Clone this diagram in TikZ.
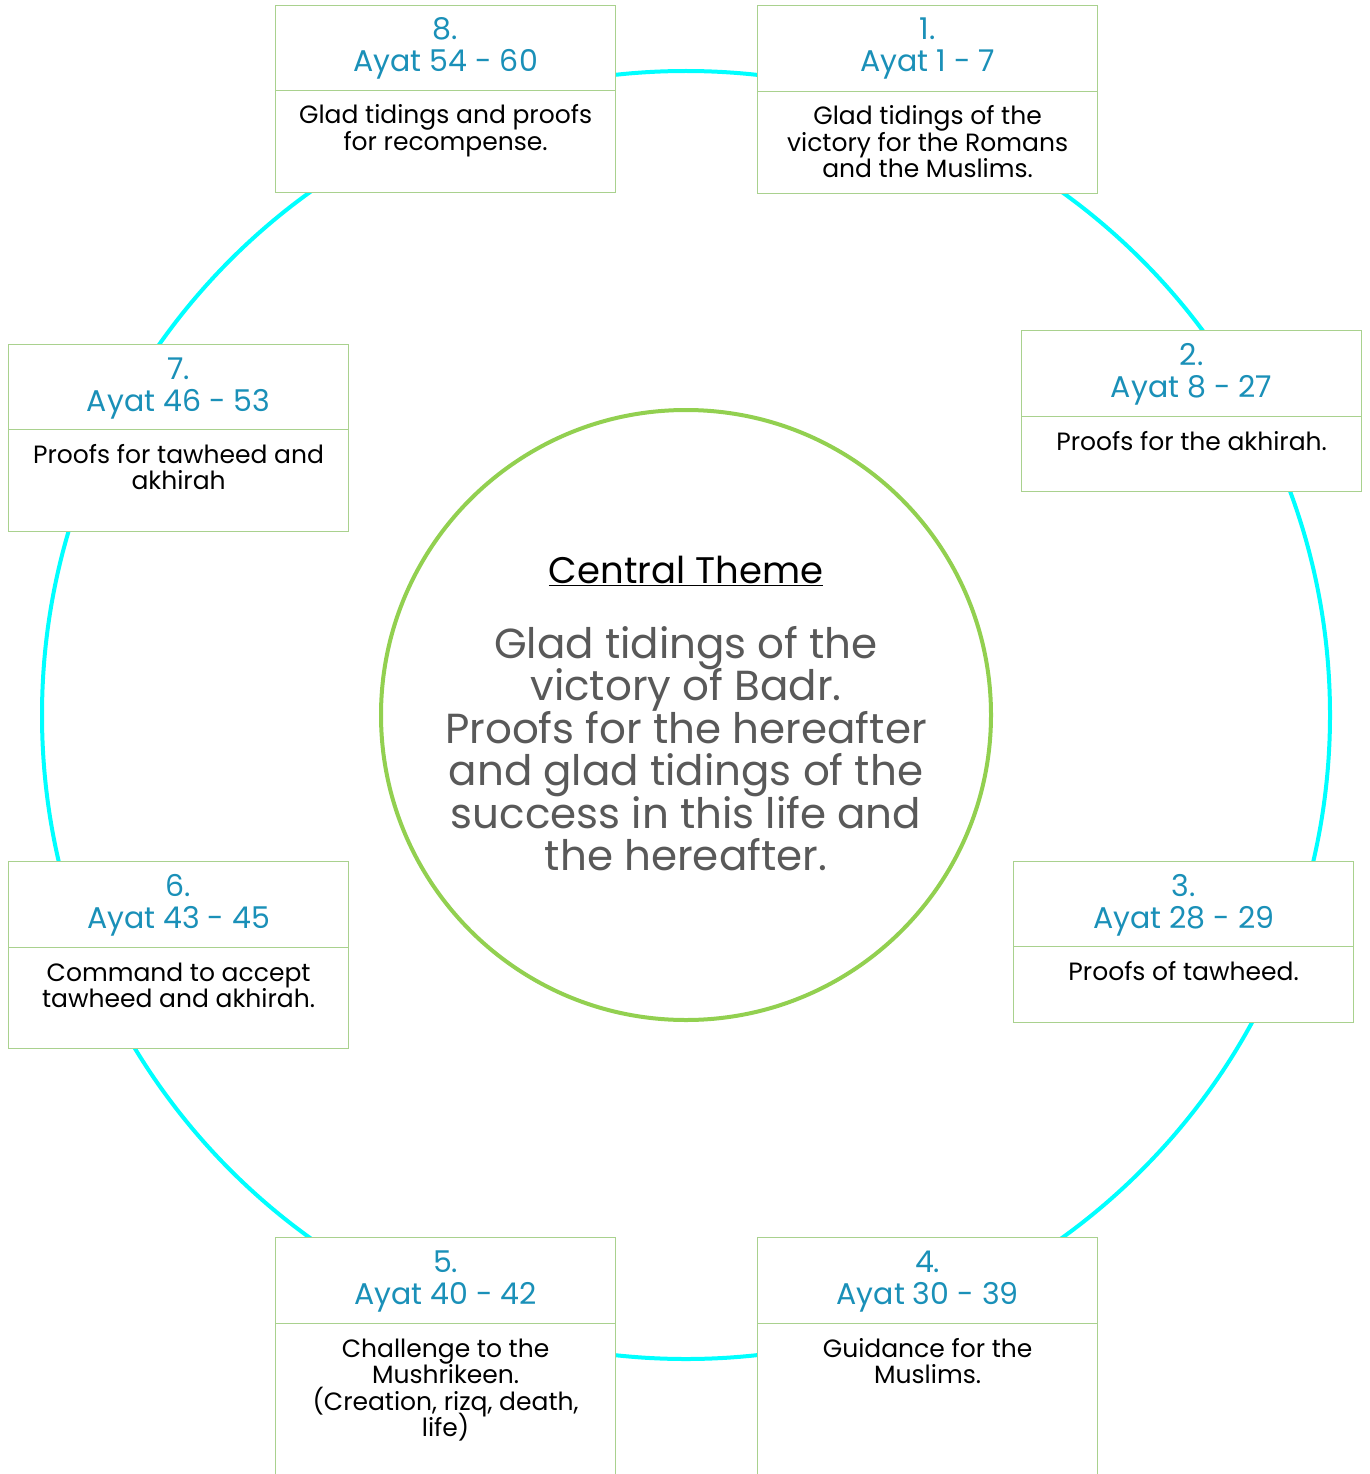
\documentclass[tikz,border=0pt]{standalone}
\usepackage{fontspec}
\setmainfont{Poppins}
\usetikzlibrary{calc}
\definecolor{ring}{HTML}{00FFFF}
\definecolor{cgreen}{HTML}{92D050}
\definecolor{bgreen}{HTML}{A9D18E}
\definecolor{hblue}{HTML}{1A90B8}
\definecolor{cgray}{HTML}{595959}
\newcommand{\mylines}[1]{\vtop{\lineskiplimit=-1000pt\let\\\cr\halign{\hfil##\hfil\cr#1\crcr}}}
\newcommand{\ayatbox}[8]{%
  \node[part, minimum height={#4-#3}] (#1h) at (#2,#3) {};
  \node[part, minimum height={#5-#4}] (#1b) at (#2,#4) {};
  \node[hdr] (#1t) at ($(#1h.north)+(0,35)$) {\mylines{#6\\#7}};
  \node[bodytext] (#1d) at ($(#1b.north)+(0,34)$) {\mylines{#8}};
}
\begin{document}
\begin{tikzpicture}[x=1pt,y=-1pt,
  part/.style={draw=bgreen,line width=1.2pt,fill=white,minimum width=340pt,inner sep=0pt,anchor=north west},
  hdr/.style={text=hblue,font=\fontsize{30}{32}\selectfont,inner sep=0pt,anchor=base},
  bodytext/.style={text=black,font=\fontsize{25}{26.5}\selectfont,inner sep=0pt,anchor=base}]
\useasboundingbox (0,0) rectangle (1369,1474);
\clip (0,0) rectangle (1369,1474);
\fill[white] (0,0) rectangle (1369,1474);
\node[circle, draw=ring, line width=4pt, minimum size=1288pt, inner sep=0pt] (ring) at (686,715) {};
\node[circle, draw=cgreen, line width=4pt, minimum size=610pt, inner sep=0pt] (center) at (686,715) {};
\node[anchor=base, inner sep=0pt, font=\fontsize{37}{37}\selectfont] (title) at (686,583) {\underline{Central Theme}};
\node[anchor=base, inner sep=0pt, text=cgray, font=\fontsize{42}{42.5}\selectfont] (theme) at (686,658)
  {\mylines{Glad tidings of the\\victory of Badr.\\Proofs for the hereafter\\and glad tidings of the\\success in this life and\\the hereafter.}};
\ayatbox{b8}{275}{5}{90}{192}{8.}{Ayat 54 - 60}{Glad tidings and proofs\\for recompense.}
\ayatbox{b1}{757}{5}{91}{193}{1.}{Ayat 1 - 7}{Glad tidings of the\\victory for the Romans\\and the Muslims.}
\ayatbox{b2}{1021}{330}{416}{491}{2.}{Ayat 8 - 27}{Proofs for the akhirah.}
\ayatbox{b3}{1013}{861}{946}{1022}{3.}{Ayat 28 - 29}{Proofs of tawheed.}
\ayatbox{b4}{757}{1237}{1323}{1490}{4.}{Ayat 30 - 39}{Guidance for the\\Muslims.}
\ayatbox{b5}{275}{1237}{1323}{1490}{5.}{Ayat 40 - 42}{Challenge to the\\Mushrikeen.\\(Creation, rizq, death,\\life)}
\ayatbox{b6}{8}{861}{947}{1048}{6.}{Ayat 43 - 45}{Command to accept\\tawheed and akhirah.}
\ayatbox{b7}{8}{344}{429}{531}{7.}{Ayat 46 - 53}{Proofs for tawheed and\\akhirah}
\end{tikzpicture}
\end{document}
